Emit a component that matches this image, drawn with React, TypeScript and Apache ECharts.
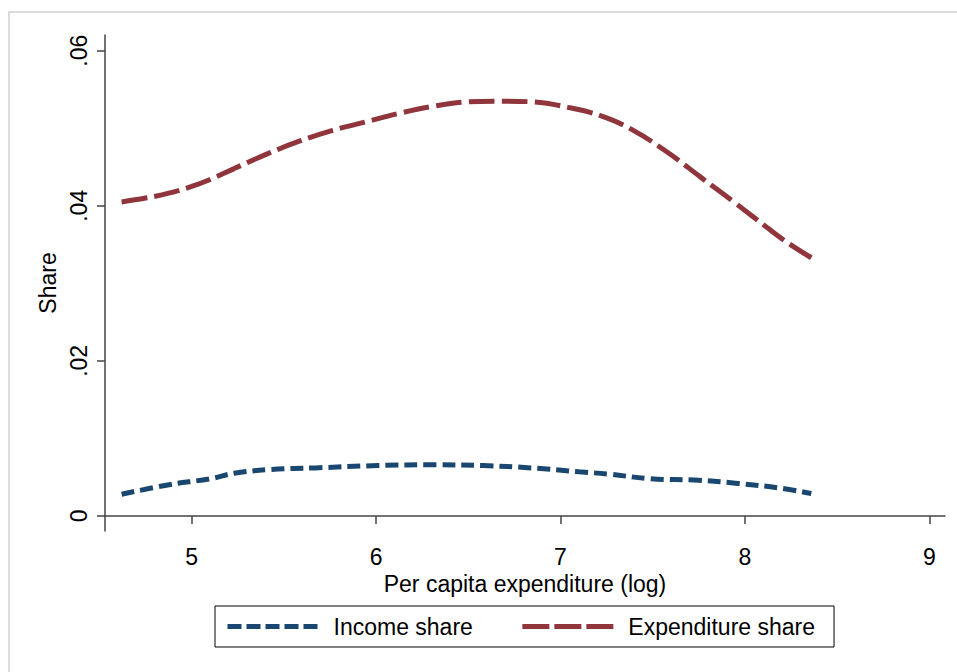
import React, { useEffect, useRef } from "react";
import * as echarts from "echarts";

const xTicks = [5, 6, 7, 8, 9];
const yTicks = [0, 0.02, 0.04, 0.06];

const expX = [4.62, 4.75, 4.87, 5.0, 5.1, 5.23, 5.41, 5.58, 5.76, 5.94, 6.12, 6.3, 6.49, 6.67, 6.85, 7.04, 7.22, 7.39, 7.58, 7.76, 7.94, 8.12, 8.24, 8.36];
const expY = [0.0405, 0.041, 0.0416, 0.0425, 0.0434, 0.0448, 0.0467, 0.0483, 0.0497, 0.0508, 0.0519, 0.0528, 0.0534, 0.0535, 0.0534, 0.0527, 0.0516, 0.0498, 0.0469, 0.0437, 0.0405, 0.0372, 0.0351, 0.0333];

const incX = [4.62, 4.87, 5.1, 5.23, 5.43, 5.67, 6.01, 6.32, 6.58, 6.84, 7.1, 7.26, 7.49, 7.75, 7.96, 8.19, 8.36];
const incY = [0.0028, 0.004, 0.0048, 0.0055, 0.006, 0.0062, 0.0065, 0.0066, 0.0065, 0.0062, 0.0057, 0.0054, 0.0048, 0.0046, 0.0042, 0.0036, 0.0029];

const FONT = "'Liberation Sans', Arial, sans-serif";
const NAVY = "#1a476f";
const MAROON = "#90353b";
const AXIS = "#444444";
const INC_DASH = [13, 6];
const EXP_DASH = [26, 7];

export default function App() {
  const ref = useRef<HTMLDivElement>(null);
  useEffect(() => {
    if (!ref.current) return;
    const chart = echarts.init(ref.current, null, { renderer: "svg" });
    const fmtY = (v: number) => (v === 0 ? "0" : String(v).replace(/^0/, ""));
    chart.setOption({
      animation: false,
      backgroundColor: "#ffffff",
      textStyle: { fontFamily: FONT },
      graphic: [
        {
          type: "rect",
          shape: { x: 9, y: 12, width: 1000, height: 700 },
          style: { fill: "none", stroke: "#dcdcdc", lineWidth: 2 },
          silent: true,
        },
      ],
      grid: { left: 105, right: 12, top: 35, bottom: 141, containLabel: false },
      xAxis: {
        type: "value",
        min: 4.53,
        max: 9.085,
        name: "Per capita expenditure (log)",
        nameLocation: "middle",
        nameGap: 39,
        nameTextStyle: { fontSize: 23, color: "#000", fontFamily: FONT },
        axisLine: { show: true, lineStyle: { color: AXIS, width: 1.5 } },
        axisTick: { show: true, length: 8, customValues: xTicks, lineStyle: { color: AXIS, width: 1.5 } },
        axisLabel: { customValues: xTicks, fontSize: 23, color: "#000", margin: 14, fontFamily: FONT },
        splitLine: { show: false },
      },
      yAxis: {
        type: "value",
        min: -0.00194,
        max: 0.06203,
        name: "Share",
        nameLocation: "middle",
        nameRotate: 90,
        nameGap: 40,
        nameTextStyle: { fontSize: 23, color: "#000", fontFamily: FONT },
        axisLine: { show: true, lineStyle: { color: AXIS, width: 1.5 } },
        axisTick: { show: true, length: 8, customValues: yTicks, lineStyle: { color: AXIS, width: 1.5 } },
        axisLabel: {
          customValues: yTicks,
          rotate: 90,
          fontSize: 23,
          color: "#000",
          margin: 15,
          fontFamily: FONT,
          formatter: fmtY,
        },
        splitLine: { show: false },
      },
      legend: {
        left: 215,
        top: 606,
        orient: "horizontal",
        itemWidth: 91,
        itemHeight: 14,
        itemGap: 47,
        padding: [9, 19, 9, 10],
        borderColor: "#000",
        borderWidth: 1,
        itemStyle: { opacity: 0, borderWidth: 0 },
        textStyle: { fontSize: 23, color: "#000", fontFamily: FONT, padding: [0, 0, 0, 10] },
        data: [
          { name: "Income share", lineStyle: { color: NAVY, width: 5, type: [14, 5] } },
          { name: "Expenditure share", lineStyle: { color: MAROON, width: 5, type: [27, 5] } },
        ],
      },
      series: [
        {
          name: "Income share",
          type: "line",
          smooth: 0.4,
          symbol: "none",
          lineStyle: { color: NAVY, width: 5, type: INC_DASH },
          itemStyle: { color: NAVY },
          data: incX.map((x, i) => [x, incY[i]]),
        },
        {
          name: "Expenditure share",
          type: "line",
          smooth: 0.4,
          symbol: "none",
          lineStyle: { color: MAROON, width: 5, type: EXP_DASH },
          itemStyle: { color: MAROON },
          data: expX.map((x, i) => [x, expY[i]]),
        },
      ],
    });
    return () => chart.dispose();
  }, []);
  return (
    <div
      ref={ref}
      style={{ position: "fixed", left: 0, top: 0, width: 957, height: 672 }}
    />
  );
}
